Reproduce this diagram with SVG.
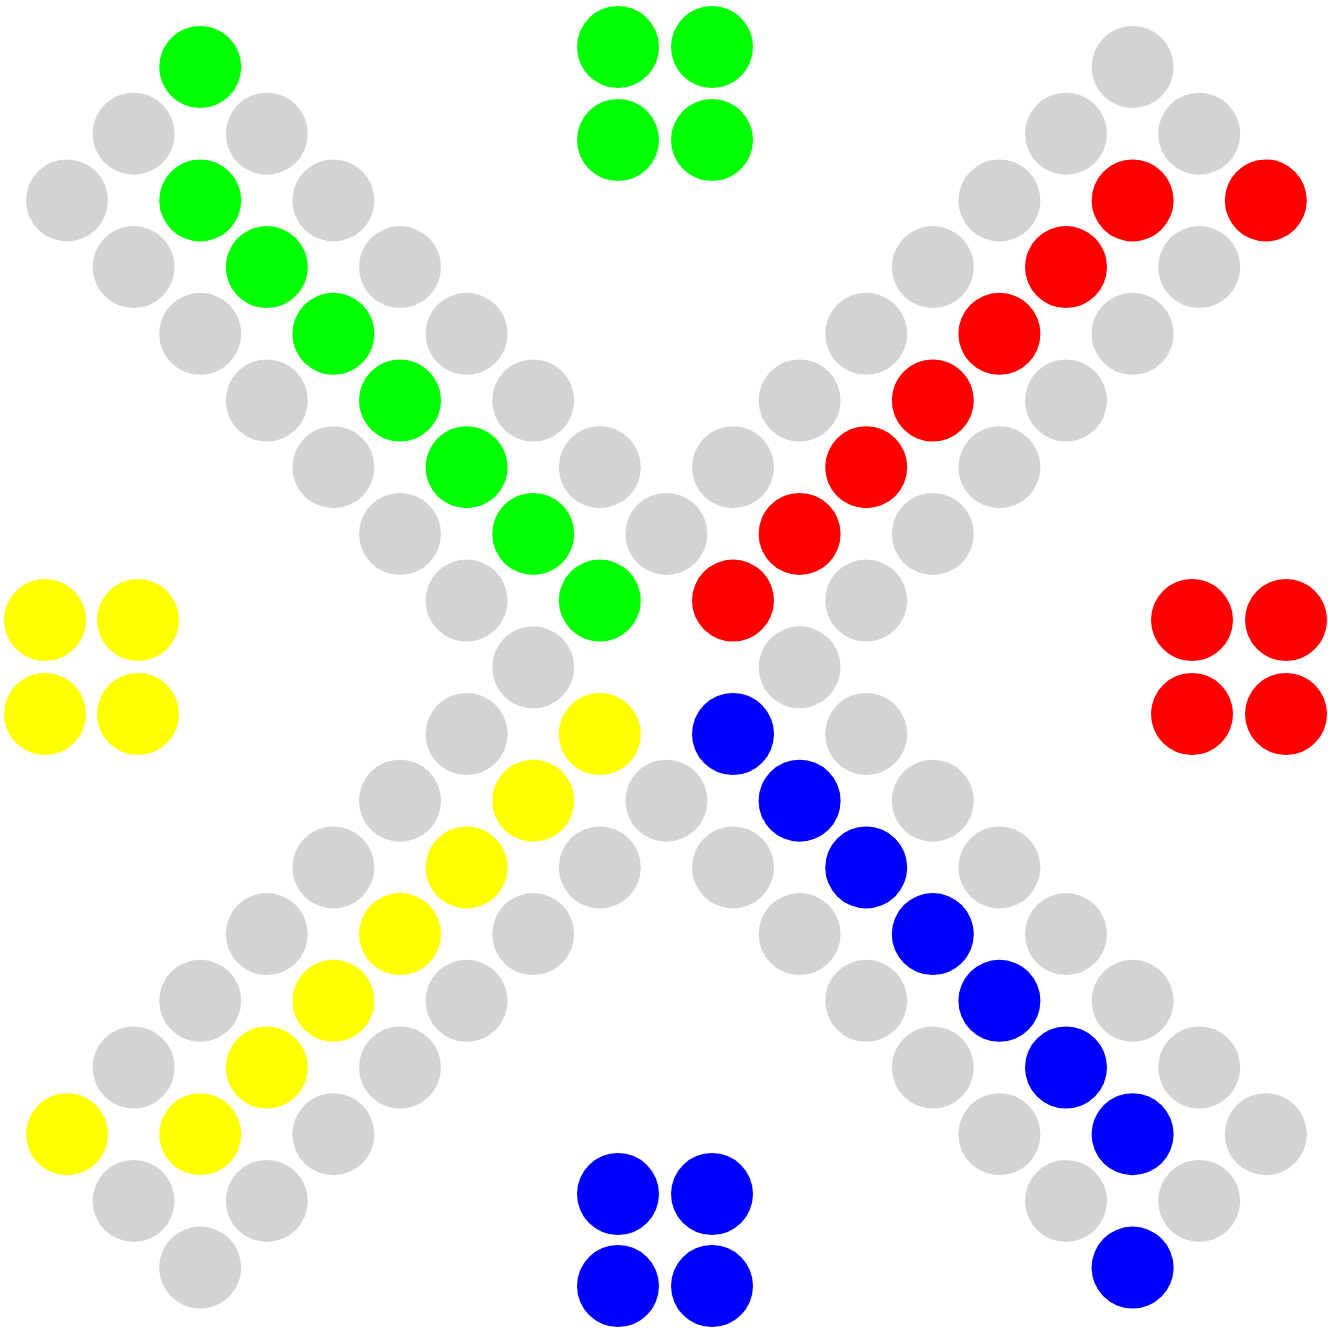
<svg xmlns="http://www.w3.org/2000/svg" width="1328" height="1328" viewBox="0 0 1328 1328">
<style>
circle{r:41px}
.g{fill:#d3d3d3}
.gr{fill:#00ff00}
.r{fill:#ff0000}
.b{fill:#0000ff}
.y{fill:#ffff00}
</style>
<rect width="1328" height="1328" fill="#ffffff"/>
<g id="homes">
<g id="home-green"><circle class="gr" cx="618" cy="47" r="41"/><circle class="gr" cx="712" cy="47" r="41"/><circle class="gr" cx="618" cy="140" r="41"/><circle class="gr" cx="712" cy="140" r="41"/></g>
<g id="home-yellow"><circle class="y" cx="45" cy="620" r="41"/><circle class="y" cx="138" cy="620" r="41"/><circle class="y" cx="45" cy="714" r="41"/><circle class="y" cx="138" cy="714" r="41"/></g>
<g id="home-red"><circle class="r" cx="1192" cy="620" r="41"/><circle class="r" cx="1286" cy="620" r="41"/><circle class="r" cx="1192" cy="714" r="41"/><circle class="r" cx="1286" cy="714" r="41"/></g>
<g id="home-blue"><circle class="b" cx="618" cy="1194" r="41"/><circle class="b" cx="712" cy="1194" r="41"/><circle class="b" cx="618" cy="1286" r="41"/><circle class="b" cx="712" cy="1286" r="41"/></g>
</g>
<g id="board">
<!-- row 0 y=67 -->
<circle class="gr" cx="200.2" cy="67" r="41"/><circle class="g" cx="1132.6" cy="67" r="41"/>
<!-- row 1 y=133.7 -->
<circle class="g" cx="133.6" cy="133.7" r="41"/><circle class="g" cx="266.8" cy="133.7" r="41"/><circle class="g" cx="1066" cy="133.7" r="41"/><circle class="g" cx="1199.2" cy="133.7" r="41"/>
<!-- row 2 y=200.4 -->
<circle class="g" cx="67" cy="200.4" r="41"/><circle class="gr" cx="200.2" cy="200.4" r="41"/><circle class="g" cx="333.4" cy="200.4" r="41"/><circle class="g" cx="999.4" cy="200.4" r="41"/><circle class="r" cx="1132.6" cy="200.4" r="41"/><circle class="r" cx="1265.8" cy="200.4" r="41"/>
<!-- row 3 y=267.1 -->
<circle class="g" cx="133.6" cy="267.1" r="41"/><circle class="gr" cx="266.8" cy="267.1" r="41"/><circle class="g" cx="400" cy="267.1" r="41"/><circle class="g" cx="932.8" cy="267.1" r="41"/><circle class="r" cx="1066" cy="267.1" r="41"/><circle class="g" cx="1199.2" cy="267.1" r="41"/>
<!-- row 4 y=333.8 -->
<circle class="g" cx="200.2" cy="333.8" r="41"/><circle class="gr" cx="333.4" cy="333.8" r="41"/><circle class="g" cx="466.6" cy="333.8" r="41"/><circle class="g" cx="866.2" cy="333.8" r="41"/><circle class="r" cx="999.4" cy="333.8" r="41"/><circle class="g" cx="1132.6" cy="333.8" r="41"/>
<!-- row 5 y=400.5 -->
<circle class="g" cx="266.8" cy="400.5" r="41"/><circle class="gr" cx="400" cy="400.5" r="41"/><circle class="g" cx="533.2" cy="400.5" r="41"/><circle class="g" cx="799.6" cy="400.5" r="41"/><circle class="r" cx="932.8" cy="400.5" r="41"/><circle class="g" cx="1066" cy="400.5" r="41"/>
<!-- row 6 y=467.2 -->
<circle class="g" cx="333.4" cy="467.2" r="41"/><circle class="gr" cx="466.6" cy="467.2" r="41"/><circle class="g" cx="599.8" cy="467.2" r="41"/><circle class="g" cx="733" cy="467.2" r="41"/><circle class="r" cx="866.2" cy="467.2" r="41"/><circle class="g" cx="999.4" cy="467.2" r="41"/>
<!-- row 7 y=533.9 -->
<circle class="g" cx="400" cy="533.9" r="41"/><circle class="gr" cx="533.2" cy="533.9" r="41"/><circle class="g" cx="666.4" cy="533.9" r="41"/><circle class="r" cx="799.6" cy="533.9" r="41"/><circle class="g" cx="932.8" cy="533.9" r="41"/>
<!-- row 8 y=600.6 -->
<circle class="g" cx="466.6" cy="600.6" r="41"/><circle class="gr" cx="599.8" cy="600.6" r="41"/><circle class="r" cx="733" cy="600.6" r="41"/><circle class="g" cx="866.2" cy="600.6" r="41"/>
<!-- row 9 y=667.3 -->
<circle class="g" cx="533.2" cy="667.3" r="41"/><circle class="g" cx="799.6" cy="667.3" r="41"/>
<!-- row 10 y=734 -->
<circle class="g" cx="466.6" cy="734" r="41"/><circle class="y" cx="599.8" cy="734" r="41"/><circle class="b" cx="733" cy="734" r="41"/><circle class="g" cx="866.2" cy="734" r="41"/>
<!-- row 11 y=800.7 -->
<circle class="g" cx="400" cy="800.7" r="41"/><circle class="y" cx="533.2" cy="800.7" r="41"/><circle class="g" cx="666.4" cy="800.7" r="41"/><circle class="b" cx="799.6" cy="800.7" r="41"/><circle class="g" cx="932.8" cy="800.7" r="41"/>
<!-- row 12 y=867.4 -->
<circle class="g" cx="333.4" cy="867.4" r="41"/><circle class="y" cx="466.6" cy="867.4" r="41"/><circle class="g" cx="599.8" cy="867.4" r="41"/><circle class="g" cx="733" cy="867.4" r="41"/><circle class="b" cx="866.2" cy="867.4" r="41"/><circle class="g" cx="999.4" cy="867.4" r="41"/>
<!-- row 13 y=934.1 -->
<circle class="g" cx="266.8" cy="934.1" r="41"/><circle class="y" cx="400" cy="934.1" r="41"/><circle class="g" cx="533.2" cy="934.1" r="41"/><circle class="g" cx="799.6" cy="934.1" r="41"/><circle class="b" cx="932.8" cy="934.1" r="41"/><circle class="g" cx="1066" cy="934.1" r="41"/>
<!-- row 14 y=1000.8 -->
<circle class="g" cx="200.2" cy="1000.8" r="41"/><circle class="y" cx="333.4" cy="1000.8" r="41"/><circle class="g" cx="466.6" cy="1000.8" r="41"/><circle class="g" cx="866.2" cy="1000.8" r="41"/><circle class="b" cx="999.4" cy="1000.8" r="41"/><circle class="g" cx="1132.6" cy="1000.8" r="41"/>
<!-- row 15 y=1067.5 -->
<circle class="g" cx="133.6" cy="1067.5" r="41"/><circle class="y" cx="266.8" cy="1067.5" r="41"/><circle class="g" cx="400" cy="1067.5" r="41"/><circle class="g" cx="932.8" cy="1067.5" r="41"/><circle class="b" cx="1066" cy="1067.5" r="41"/><circle class="g" cx="1199.2" cy="1067.5" r="41"/>
<!-- row 16 y=1134.2 -->
<circle class="y" cx="67" cy="1134.2" r="41"/><circle class="y" cx="200.2" cy="1134.2" r="41"/><circle class="g" cx="333.4" cy="1134.2" r="41"/><circle class="g" cx="999.4" cy="1134.2" r="41"/><circle class="b" cx="1132.6" cy="1134.2" r="41"/><circle class="g" cx="1265.8" cy="1134.2" r="41"/>
<!-- row 17 y=1200.9 -->
<circle class="g" cx="133.6" cy="1200.9" r="41"/><circle class="g" cx="266.8" cy="1200.9" r="41"/><circle class="g" cx="1066" cy="1200.9" r="41"/><circle class="g" cx="1199.2" cy="1200.9" r="41"/>
<!-- row 18 y=1267.6 -->
<circle class="g" cx="200.2" cy="1267.6" r="41"/><circle class="b" cx="1132.6" cy="1267.6" r="41"/>
</g>
<g id="connectors"/>
</svg>
